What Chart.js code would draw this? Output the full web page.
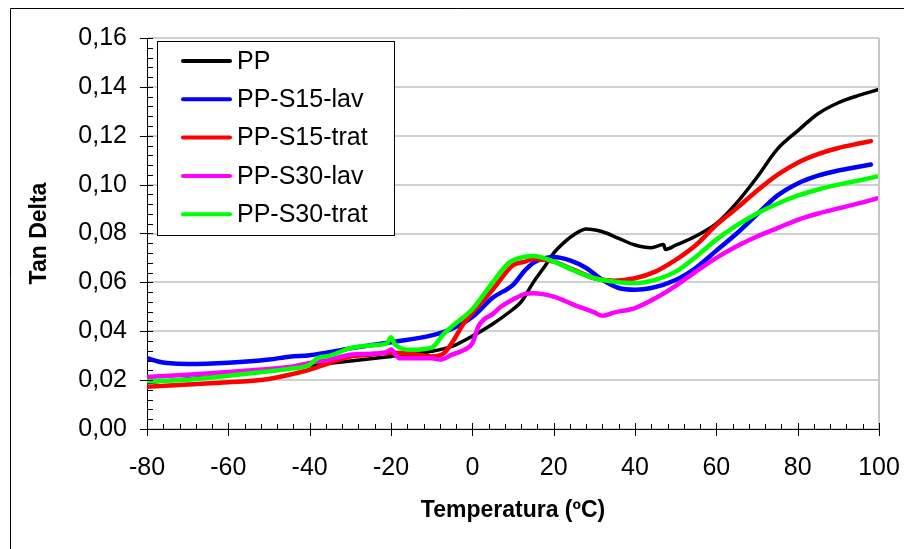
<!DOCTYPE html>
<html>
<head>
<meta charset="utf-8">
<script src="https://cdn.jsdelivr.net/npm/chart.js@4.4.1/dist/chart.umd.min.js"></script>
<style>
  html, body { margin: 0; padding: 0; background: #fff; }
  #wrap { width: 904px; height: 549px; }
</style>
</head>
<body>
<div id="wrap"><canvas id="tanDeltaChart" width="904" height="549"></canvas></div>
<script>
// temperatures (ºC) and tan delta readings per sample
const ppTemp = [-80, -70, -60, -50, -40, -30, -20, -10, -5, 0, 5, 10, 12, 15, 18, 20, 23, 25, 28, 32, 36, 40, 44, 47, 47.5, 50, 55, 60, 65, 70, 75, 80, 85, 90, 95, 100];
const ppVal = [0.019, 0.0205, 0.022, 0.0245, 0.026, 0.0278, 0.0297, 0.0318, 0.0338, 0.038, 0.043, 0.049, 0.052, 0.060, 0.067, 0.072, 0.077, 0.0795, 0.0818, 0.0807, 0.078, 0.0753, 0.0742, 0.0755, 0.0735, 0.0752, 0.079, 0.084, 0.0925, 0.103, 0.1145, 0.122, 0.129, 0.1335, 0.1365, 0.139];

const s15LavTemp = [-80, -77, -75, -70, -60, -50, -45, -40, -30, -20, -10, -5, 0, 5, 10, 13, 15, 20, 24, 28, 32, 36, 40, 44, 50, 55, 60, 65, 70, 75, 80, 85, 90, 95, 98];
const s15LavVal = [0.029, 0.0275, 0.027, 0.0266, 0.0271, 0.0284, 0.0296, 0.0302, 0.033, 0.0355, 0.0383, 0.041, 0.0458, 0.0537, 0.059, 0.065, 0.068, 0.0704, 0.069, 0.0659, 0.061, 0.0577, 0.057, 0.0577, 0.061, 0.066, 0.073, 0.080, 0.0878, 0.0955, 0.1005, 0.1037, 0.1058, 0.1073, 0.1082];

const s15TratTemp = [-80, -70, -60, -50, -45, -40, -35, -30, -25, -20, -15, -10, -7, -5, -2, 0, 5, 10, 13, 15, 20, 25, 30, 35, 40, 45, 50, 55, 60, 65, 70, 75, 80, 85, 90, 95, 98];
const s15TratVal = [0.0173, 0.0182, 0.0191, 0.0205, 0.0222, 0.0243, 0.0271, 0.0297, 0.0304, 0.0312, 0.0308, 0.0297, 0.031, 0.0353, 0.0435, 0.0475, 0.057, 0.067, 0.0685, 0.0696, 0.0685, 0.0651, 0.0617, 0.0607, 0.0617, 0.0644, 0.0692, 0.0753, 0.0835, 0.0903, 0.0975, 0.104, 0.109, 0.1125, 0.115, 0.1168, 0.1178];

const s30LavTemp = [-80, -70, -60, -50, -45, -40, -35, -30, -25, -21, -20, -18, -15, -10, -8, -5, -2, 0, 1.5, 3, 5, 7, 10, 13, 15, 20, 25, 30, 32, 35, 40, 45, 50, 55, 60, 65, 70, 75, 80, 85, 90, 95, 99.5];
const s30LavVal = [0.0213, 0.0222, 0.0233, 0.0246, 0.0254, 0.027, 0.0284, 0.0304, 0.0308, 0.0316, 0.0325, 0.029, 0.029, 0.029, 0.0284, 0.0304, 0.0324, 0.035, 0.042, 0.045, 0.047, 0.050, 0.053, 0.0553, 0.0556, 0.0542, 0.0508, 0.0477, 0.0463, 0.0477, 0.0495, 0.0535, 0.0586, 0.0644, 0.070, 0.0748, 0.0788, 0.0822, 0.0856, 0.0882, 0.0903, 0.0923, 0.0944];

const s30TratTemp = [-80, -70, -60, -50, -45, -40, -38, -35, -30, -25, -21, -20, -19, -15, -10, -7, -5, 0, 5, 9, 13, 15, 20, 25, 30, 35, 40, 45, 50, 55, 60, 65, 70, 75, 80, 85, 90, 95, 99.5];
const s30TratVal = [0.0195, 0.0202, 0.0218, 0.0236, 0.0246, 0.0263, 0.029, 0.030, 0.0331, 0.0342, 0.035, 0.0375, 0.0345, 0.0324, 0.0333, 0.039, 0.042, 0.049, 0.060, 0.068, 0.0705, 0.0708, 0.0685, 0.0648, 0.0617, 0.0603, 0.0597, 0.061, 0.0644, 0.0705, 0.0775, 0.0833, 0.0882, 0.0922, 0.0955, 0.098, 0.100, 0.1017, 0.1033];

const xTicks = [-80, -60, -40, -20, 0, 20, 40, 60, 80, 100];
const yTickLabels = ['0,00', '0,02', '0,04', '0,06', '0,08', '0,10', '0,12', '0,14', '0,16'];

const FONT = "'Liberation Sans', Arial, sans-serif";

const toPoints = (temps, vals) => temps.map((t, i) => ({ x: t, y: vals[i] }));

const series = [
  { label: 'PP', temps: ppTemp, vals: ppVal, color: '#000000', width: 3.5 },
  { label: 'PP-S15-lav', temps: s15LavTemp, vals: s15LavVal, color: '#0000ff', width: 4.5 },
  { label: 'PP-S15-trat', temps: s15TratTemp, vals: s15TratVal, color: '#ff0000', width: 4.5 },
  { label: 'PP-S30-lav', temps: s30LavTemp, vals: s30LavVal, color: '#ff00ff', width: 4.5 },
  { label: 'PP-S30-trat', temps: s30TratTemp, vals: s30TratVal, color: '#00ff00', width: 4.5 }
];

// ticks crossing the axes, plot frame, legend box and outer frame
const decorations = {
  id: 'decorations',
  beforeDraw(chart) {
    const { ctx } = chart;
    ctx.save();
    ctx.fillStyle = '#fff';
    ctx.fillRect(0, 0, chart.width, chart.height);
    ctx.restore();
  },
  afterDraw(chart) {
    const { ctx, chartArea: a, scales: { x, y } } = chart;
    ctx.save();

    // right edge of the plot area
    ctx.strokeStyle = '#c8c8c8';
    ctx.lineWidth = 2;
    ctx.beginPath();
    ctx.moveTo(a.right, a.top);
    ctx.lineTo(a.right, a.bottom);
    ctx.stroke();

    ctx.strokeStyle = '#000';
    ctx.lineWidth = 1;
    ctx.beginPath();
    for (let v = x.min; v <= x.max + 0.001; v += 4) {
      const px = Math.round(x.getPixelForValue(v)) + 0.5;
      const major = Math.abs(v % 20) < 0.001;
      ctx.moveTo(px, a.bottom - (major ? 6 : 5));
      ctx.lineTo(px, a.bottom + (major ? 7 : 0));
    }
    for (let v = y.min; v <= y.max + 0.0001; v += 0.004) {
      const py = Math.round(y.getPixelForValue(v)) + 0.5;
      const major = Math.abs(Math.round(v * 1000) % 20) === 0;
      ctx.moveTo(a.left - (major ? 7 : 0), py);
      ctx.lineTo(a.left + 6, py);
    }
    ctx.stroke();

    // legend
    const box = { left: 157.5, top: 41.5, right: 394.5, bottom: 235.5 };
    ctx.fillStyle = '#fff';
    ctx.fillRect(box.left, box.top, box.right - box.left, box.bottom - box.top);
    ctx.strokeStyle = '#000';
    ctx.lineWidth = 1;
    ctx.strokeRect(box.left, box.top, box.right - box.left, box.bottom - box.top);
    ctx.font = `25px ${FONT}`;
    ctx.textBaseline = 'middle';
    ctx.textAlign = 'left';
    chart.data.datasets.forEach((ds, i) => {
      const rowY = 61 + i * 38.3;
      ctx.strokeStyle = ds.borderColor;
      ctx.lineWidth = 4;
      ctx.lineCap = 'round';
      ctx.beginPath();
      ctx.moveTo(183, rowY);
      ctx.lineTo(230, rowY);
      ctx.stroke();
      ctx.fillStyle = '#000';
      ctx.fillText(ds.label, 237, rowY + 1);
    });

    // outer frame (left and top edges only are visible)
    ctx.strokeStyle = '#000';
    ctx.lineWidth = 1;
    ctx.lineCap = 'butt';
    ctx.beginPath();
    ctx.moveTo(10.5, chart.height);
    ctx.lineTo(10.5, 8.5);
    ctx.lineTo(chart.width, 8.5);
    ctx.stroke();

    ctx.restore();
  }
};

const ctx = document.getElementById('tanDeltaChart').getContext('2d');

new Chart(ctx, {
  type: 'line',
  data: {
    datasets: series.map((s, i) => ({
      label: s.label,
      data: toPoints(s.temps, s.vals),
      borderColor: s.color,
      backgroundColor: s.color,
      borderWidth: s.width,
      pointRadius: 0,
      cubicInterpolationMode: 'monotone',
      borderCapStyle: 'round',
      borderJoinStyle: 'round',
      fill: false,
      order: series.length - i
    }))
  },
  options: {
    responsive: false,
    animation: false,
    devicePixelRatio: 1,
    layout: {
      padding: { left: 0, right: 25, top: 38, bottom: 0 }
    },
    plugins: {
      legend: { display: false },
      tooltip: { enabled: false }
    },
    scales: {
      x: {
        type: 'linear',
        min: -80,
        max: 100,
        afterFit(scale) {
          scale.height = 120;
          scale.paddingLeft = 0;
          scale.paddingRight = 0;
        },
        afterBuildTicks(scale) { scale.ticks = xTicks.map(v => ({ value: v })); },
        ticks: {
          color: '#000',
          padding: 24,
          maxRotation: 0,
          font: { family: FONT, size: 25 }
        },
        grid: { display: false, drawTicks: false },
        border: { display: true, color: '#000', width: 1 },
        title: {
          display: true,
          text: 'Temperatura (ºC)',
          color: '#000',
          font: { family: FONT, size: 23, weight: 'bold' },
          padding: { top: 0, bottom: 25 }
        }
      },
      y: {
        type: 'linear',
        min: 0,
        max: 0.16,
        afterFit(scale) {
          scale.width = 147;
          scale.paddingTop = 0;
          scale.paddingBottom = 0;
        },
        ticks: {
          stepSize: 0.02,
          color: '#000',
          padding: 20,
          font: { family: FONT, size: 25 },
          callback(value, index) {
            return yTickLabels[index];
          }
        },
        grid: { color: '#d0d0d0', lineWidth: 2, drawTicks: false },
        border: { display: true, color: '#000', width: 1 },
        title: {
          display: true,
          text: 'Tan Delta',
          color: '#000',
          font: { family: FONT, size: 23, weight: 'bold' },
          padding: { top: 26, bottom: 0 }
        }
      }
    }
  },
  plugins: [decorations]
});
</script>
</body>
</html>
